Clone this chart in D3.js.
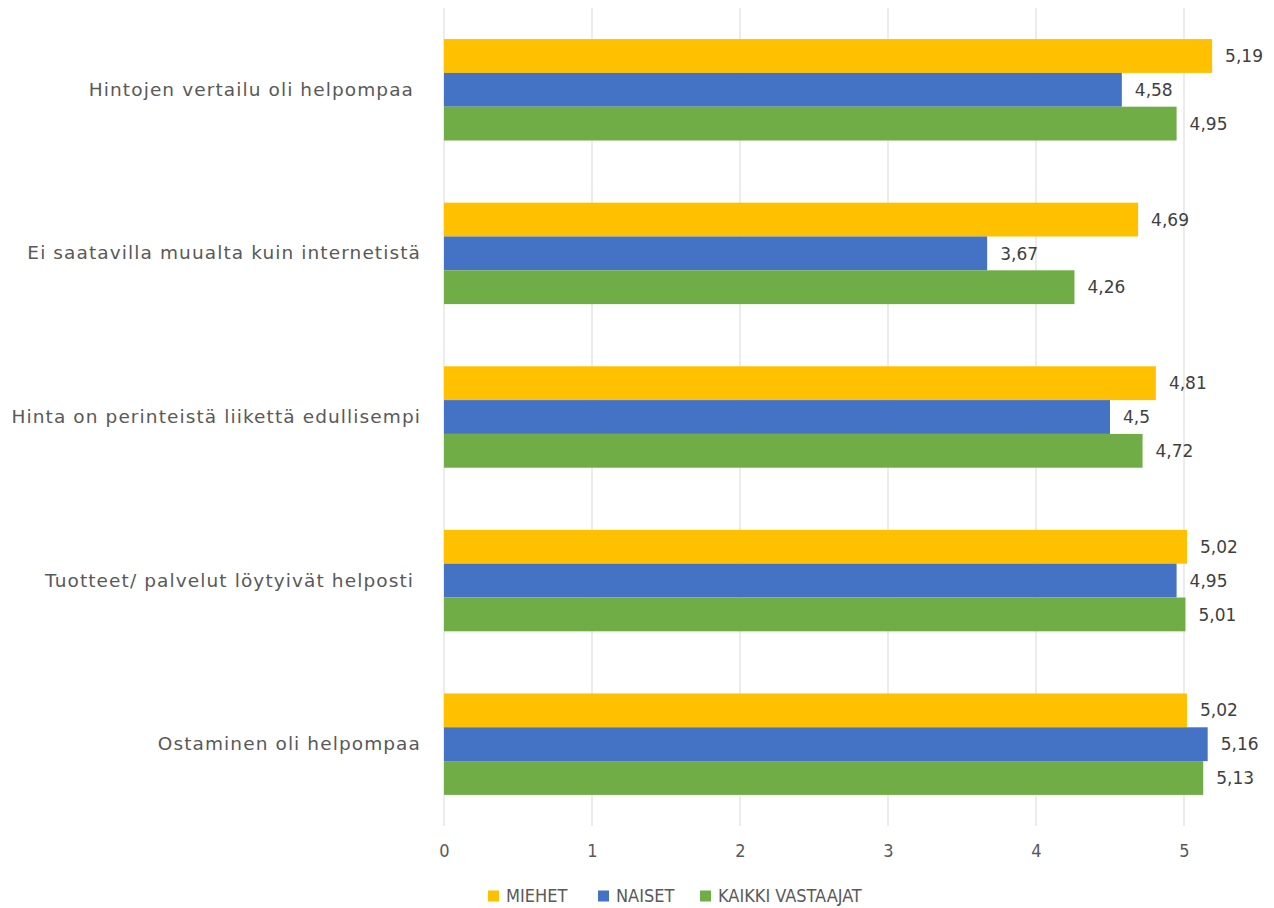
<!DOCTYPE html>
<html>
<head>
<meta charset="utf-8">
<script src="https://cdn.jsdelivr.net/npm/d3@7"></script>
<style>
  html, body { margin: 0; padding: 0; background: #ffffff; }
  svg { display: block; font-family: "DejaVu Sans", "Noto Sans", sans-serif; }
  .cat-label { white-space: pre; }
  .narrow { font-family: "Liberation Sans Narrow", "Arial Narrow", "DejaVu Sans Condensed", sans-serif; }
</style>
</head>
<body>
<svg id="chart" width="1274" height="908"></svg>
<script>
// Survey statements (top to bottom)
const categories = [
  "Hintojen vertailu oli helpompaa ",
  "Ei saatavilla muualta kuin internetistä",
  "Hinta on perinteistä liikettä edullisempi",
  "Tuotteet/ palvelut löytyivät helposti ",
  "Ostaminen oli helpompaa"
];
const seriesNames = ["MIEHET", "NAISET", "KAIKKI VASTAAJAT"];
const seriesColors = ["#FFC000", "#4472C4", "#70AD47"];
const miehet = [5.19, 4.69, 4.81, 5.02, 5.02];
const naiset = [4.58, 3.67, 4.5, 4.95, 5.16];
const kaikki = [4.95, 4.26, 4.72, 5.01, 5.13];
const xTicks = [0, 1, 2, 3, 4, 5];

const seriesValues = [miehet, naiset, kaikki];

const svg = d3.select("#chart");
const plot = { left: 444, top: 8, bottom: 826 };

const x = d3.scaleLinear().domain([0, 5]).range([plot.left, 1184]);
const y0 = d3.scaleBand().domain(categories).range([plot.top, plot.bottom]).paddingInner(0.38).paddingOuter(0.19);
const y1 = d3.scaleBand().domain(seriesNames).range([0, y0.bandwidth()]);

// vertical gridlines
svg.append("g")
  .selectAll("line")
  .data(xTicks)
  .join("line")
  .attr("x1", d => x(d)).attr("x2", d => x(d))
  .attr("y1", plot.top).attr("y2", plot.bottom)
  .attr("stroke", "#d9d9d9").attr("stroke-width", 1);

// x axis tick labels
const xAxis = d3.axisBottom(x).tickValues(xTicks).tickSize(0).tickPadding(0)
  .tickFormat(d3.format("d"));
const gx = svg.append("g").attr("transform", `translate(0, ${plot.bottom + 18})`).call(xAxis);
gx.select(".domain").remove();
gx.selectAll("text")
  .attr("class", "narrow")
  .attr("font-family", null)
  .attr("fill", "#595959").attr("font-size", 18);

// category labels
const yAxis = d3.axisLeft(y0).tickSize(0).tickPadding(0);
const gy = svg.append("g").attr("transform", `translate(421, 0)`).call(yAxis);
gy.select(".domain").remove();
gy.selectAll("text")
  .attr("class", "cat-label")
  .attr("fill", "#595959").attr("font-size", 18.5)
  .attr("letter-spacing", 1.1)
  .attr("font-family", "'DejaVu Sans', sans-serif");

// bars
const rows = categories.map((c, i) => ({
  cat: c,
  items: seriesNames.map((s, j) => ({ series: s, value: seriesValues[j][i], color: seriesColors[j] }))
}));

const groups = svg.append("g").selectAll("g")
  .data(rows).join("g")
  .attr("transform", d => `translate(0, ${y0(d.cat)})`);

groups.selectAll("rect")
  .data(d => d.items).join("rect")
  .attr("x", x(0))
  .attr("y", d => y1(d.series))
  .attr("width", d => x(d.value) - x(0))
  .attr("height", y1.bandwidth())
  .attr("fill", d => d.color);

// value labels
const fmt = v => String(v).replace(".", ",");
groups.selectAll("text.val")
  .data(d => d.items).join("text")
  .attr("class", "val")
  .attr("x", d => x(d.value) + 13)
  .attr("y", d => y1(d.series) + y1.bandwidth() / 2)
  .attr("dy", "0.36em")
  .attr("fill", "#404040")
  .attr("font-size", 17)
  .text(d => fmt(d.value));

// legend
const legendX = [488, 598, 700];
const legend = svg.append("g").selectAll("g")
  .data(seriesNames).join("g")
  .attr("transform", (d, i) => `translate(${legendX[i]}, 896)`);
legend.append("rect")
  .attr("x", 0).attr("y", -5.5).attr("width", 11).attr("height", 11)
  .attr("fill", (d, i) => seriesColors[i]);
legend.append("text")
  .attr("class", "narrow")
  .attr("x", 18).attr("y", 0).attr("dy", "0.36em")
  .attr("fill", "#595959").attr("font-size", 18)
  .text(d => d);
</script>
</body>
</html>
